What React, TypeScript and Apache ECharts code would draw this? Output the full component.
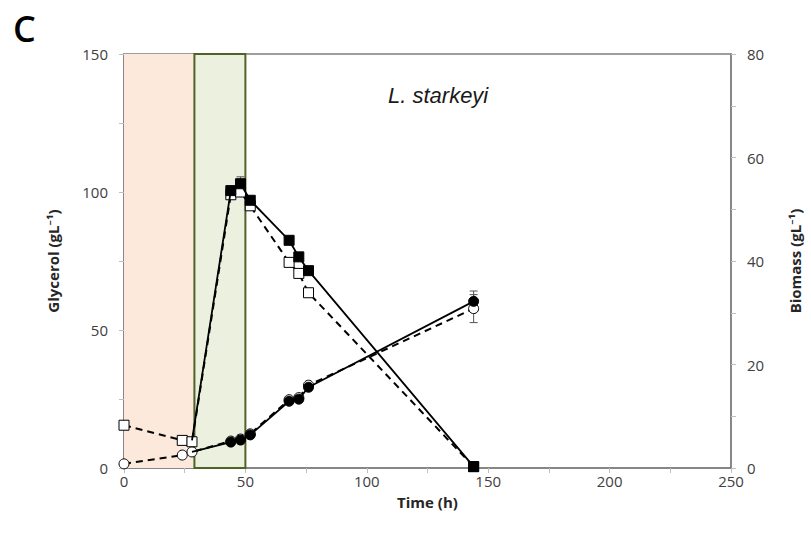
import React, { useEffect, useRef } from "react";
import * as echarts from "echarts";

// Time points (h)
const fedTime = [28, 44, 48, 52, 68, 72, 76, 144];
const openTime = [0, 24, 28, 44, 48, 52, 68, 72, 76, 144];

// Glycerol (g/L), left axis
const glycerolFilled = [10, 100.5, 103, 97, 82.5, 76.5, 71.5, 0.5];
const glycerolOpen = [15.5, 10, 9.5, 99, 100, 95, 74.5, 70.5, 63.5, 0.5];

// Biomass (g/L), right axis
const biomassFilled = [3.1, 5.0, 5.4, 6.4, 12.9, 13.3, 15.6, 32.2];
const biomassOpen = [0.8, 2.5, 3.1, 5.2, 5.6, 6.6, 13.2, 13.6, 16.0, 30.8];

// Error bars: [time, value, sd]
const glycerolErr = [[48, 103, 2.5]];
const biomassErr = [
  [144, 32.2, 2.0],
  [144, 30.8, 2.7],
];

// Phase windows (h)
const phase1 = [0, 29];
const phase2 = [29, 50];

const xTicks = { min: 0, max: 250, step: 25, labelStep: 50 };
const leftTicks = { min: 0, max: 150, step: 25, labelStep: 50 };
const rightTicks = { min: 0, max: 80, step: 10, labelStep: 20 };

const FONT = "'Open Sans', 'Noto Sans', sans-serif";
const AXIS_GRAY = "#7f7f7f";
const LABEL_GRAY = "#404040";
const TICK_FS = 15;
const NAME_FS = 15;

function pair(t: number[], v: number[]) {
  return t.map((x, i) => [x, v[i]]);
}

function errSeries(data: number[][], yAxisIndex: number) {
  return {
    type: "custom",
    yAxisIndex,
    z: 1,
    data,
    renderItem: (_p: any, api: any) => {
      const x = api.value(0);
      const y = api.value(1);
      const e = api.value(2);
      const top = api.coord([x, y + e]);
      const bot = api.coord([x, y - e]);
      const w = 4;
      const st = { stroke: "#555", lineWidth: 1 };
      return {
        type: "group",
        children: [
          { type: "line", shape: { x1: top[0], y1: top[1], x2: bot[0], y2: bot[1] }, style: st },
          { type: "line", shape: { x1: top[0] - w, y1: top[1], x2: top[0] + w, y2: top[1] }, style: st },
          { type: "line", shape: { x1: bot[0] - w, y1: bot[1], x2: bot[0] + w, y2: bot[1] }, style: st },
        ],
      };
    },
  };
}

function tickLabel(step: number, margin: number) {
  return {
    color: LABEL_GRAY,
    fontFamily: FONT,
    fontSize: TICK_FS,
    margin,
    formatter: (v: number) => (v % step === 0 ? String(v) : ""),
  };
}

const nameStyle = { fontFamily: FONT, fontSize: NAME_FS, fontWeight: "bold", color: "#262626" };

function valueAxis(cfg: any, opts: any) {
  return {
    type: "value",
    min: cfg.min,
    max: cfg.max,
    interval: cfg.step,
    axisLine: { show: true, lineStyle: { color: AXIS_GRAY, width: 1.5 } },
    axisTick: { show: true, length: 5, lineStyle: { color: "#bfbfbf", width: 1 } },
    splitLine: { show: false },
    ...opts,
  };
}

export default function App() {
  const ref = useRef<HTMLDivElement>(null);

  useEffect(() => {
    if (!ref.current) return;
    const chart = echarts.init(ref.current, undefined, { renderer: "svg" });

    const lineBase = {
      type: "line",
      symbolSize: 10,
      showSymbol: true,
    };

    const option: any = {
      animation: false,
      backgroundColor: "#ffffff",
      grid: {
        left: 124,
        right: 80,
        top: 54,
        bottom: 75,
        show: true,
        borderColor: AXIS_GRAY,
        borderWidth: 1.5,
      },
      xAxis: valueAxis(xTicks, {
        name: "Time (h)",
        nameLocation: "middle",
        nameGap: 26,
        nameTextStyle: nameStyle,
        axisLabel: tickLabel(xTicks.labelStep, 5),
      }),
      yAxis: [
        valueAxis(leftTicks, {
          position: "left",
          name: "Glycerol (gL\u207B\u00B9)",
          nameLocation: "middle",
          nameGap: 64,
          nameTextStyle: nameStyle,
          axisLabel: tickLabel(leftTicks.labelStep, 16),
        }),
        valueAxis(rightTicks, {
          position: "right",
          name: "Biomass (gL\u207B\u00B9)",
          nameLocation: "middle",
          nameGap: 56,
          nameRotate: 90,
          nameTextStyle: nameStyle,
          axisLabel: tickLabel(rightTicks.labelStep, 16),
        }),
      ],
      graphic: [
        {
          type: "text",
          left: 13,
          top: 10,
          style: { text: "C", font: `600 36px ${FONT}`, fill: "#000" },
        },
        {
          type: "text",
          left: 388,
          top: 84,
          style: { text: "L. starkeyi", font: "italic 22px 'Liberation Sans', Arial, sans-serif", fill: "#1a1a1a" },
        },
      ],
      series: [
        {
          type: "line",
          data: [],
          yAxisIndex: 0,
          silent: true,
          z: 0,
          markArea: {
            silent: true,
            data: [
              [
                { xAxis: phase1[0], yAxis: 150, itemStyle: { color: "#fce9dc", borderWidth: 0 } },
                { xAxis: phase1[1], yAxis: 0 },
              ],
              [
                {
                  xAxis: phase2[0],
                  yAxis: 150,
                  itemStyle: { color: "#ebf1de", borderColor: "#4f6228", borderWidth: 2 },
                },
                { xAxis: phase2[1], yAxis: 0 },
              ],
            ],
          },
        },
        // dashed series (open markers)
        {
          ...lineBase,
          yAxisIndex: 0,
          z: 3,
          data: pair(openTime, glycerolOpen),
          symbol: "rect",
          lineStyle: { color: "#000", width: 2, type: [7, 5] },
          itemStyle: { color: "#fff", borderColor: "#000", borderWidth: 1 },
        },
        {
          ...lineBase,
          yAxisIndex: 1,
          z: 3,
          data: pair(openTime, biomassOpen),
          symbol: "circle",
          lineStyle: { color: "#000", width: 2, type: [7, 5] },
          itemStyle: { color: "#fff", borderColor: "#000", borderWidth: 1 },
        },
        // solid series (filled markers)
        {
          ...lineBase,
          yAxisIndex: 0,
          z: 4,
          data: pair(fedTime, glycerolFilled).map((d, i) =>
            i === 0 ? { value: d, symbol: "none" } : d
          ),
          symbol: "rect",
          lineStyle: { color: "#000", width: 1.8 },
          itemStyle: { color: "#000", borderColor: "#000", borderWidth: 1 },
        },
        {
          ...lineBase,
          yAxisIndex: 1,
          z: 4,
          data: pair(fedTime, biomassFilled).map((d, i) =>
            i === 0 ? { value: d, symbol: "none" } : d
          ),
          symbol: "circle",
          lineStyle: { color: "#000", width: 1.8 },
          itemStyle: { color: "#000", borderColor: "#000", borderWidth: 1 },
        },
        errSeries(glycerolErr, 0),
        errSeries(biomassErr, 1),
      ],
    };

    chart.setOption(option);
    return () => chart.dispose();
  }, []);

  return (
    <div
      ref={ref}
      style={{ position: "fixed", left: 0, top: 0, width: 811, height: 543 }}
    />
  );
}
